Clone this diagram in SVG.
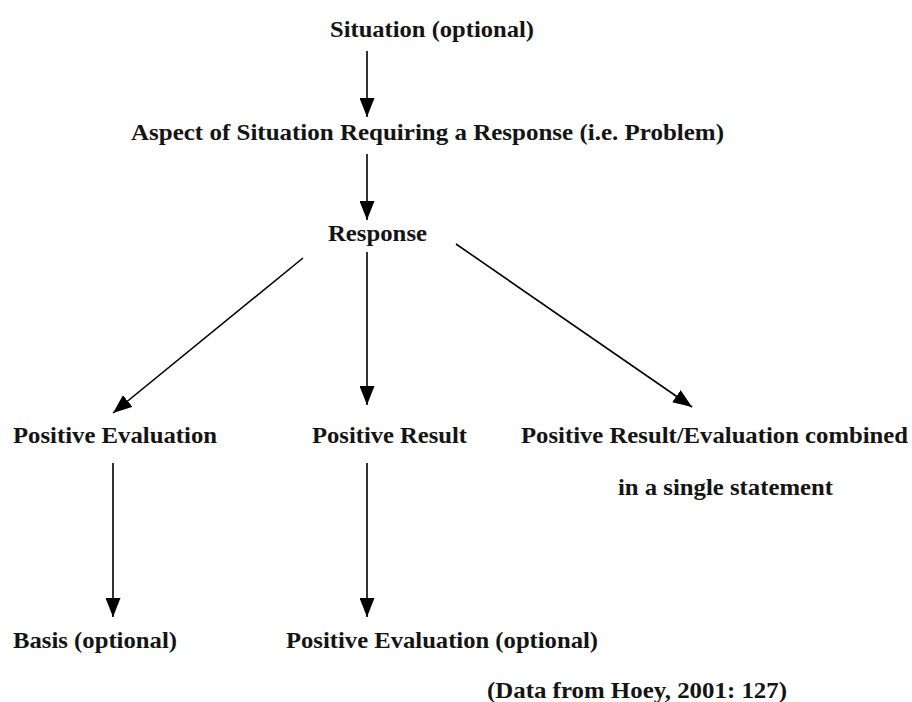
<svg xmlns="http://www.w3.org/2000/svg" width="912" height="702" viewBox="0 0 912 702">
<style>
.t{font-family:"Liberation Serif","Times New Roman",serif;font-weight:bold;font-size:23px;fill:#141414}
.c{stroke:#000;stroke-width:1.6;fill:none;marker-end:url(#ah)}
</style>
<defs>
<marker id="ah" viewBox="0 0 19 15" refX="19" refY="7.5" markerWidth="19" markerHeight="15" markerUnits="userSpaceOnUse" orient="auto">
<path d="M0,0 L19,7.5 L0,15 z" fill="#000"/>
</marker>
</defs>
<rect width="912" height="702" fill="#fff"/>
<g id="connectors">
<line class="c" x1="367" y1="51" x2="367" y2="117"/>
<line class="c" x1="367" y1="154" x2="367" y2="220"/>
<line class="c" x1="303" y1="258" x2="113" y2="413"/>
<line class="c" x1="367" y1="252" x2="367" y2="405"/>
<line class="c" x1="456" y1="244" x2="692" y2="407"/>
<line class="c" x1="113" y1="463" x2="113" y2="617"/>
<line class="c" x1="367" y1="463" x2="367" y2="617"/>
</g>
<g id="situation"><text class="t" x="330" y="37" textLength="204" lengthAdjust="spacingAndGlyphs">Situation (optional)</text></g>
<g id="aspect"><text class="t" x="131" y="140" textLength="593" lengthAdjust="spacingAndGlyphs">Aspect of Situation Requiring a Response (i.e. Problem)</text></g>
<g id="response"><text class="t" x="328" y="241" textLength="99" lengthAdjust="spacingAndGlyphs">Response</text></g>
<g id="positive-evaluation"><text class="t" x="13" y="443" textLength="204" lengthAdjust="spacingAndGlyphs">Positive Evaluation</text></g>
<g id="positive-result"><text class="t" x="312" y="443" textLength="155" lengthAdjust="spacingAndGlyphs">Positive Result</text></g>
<g id="combined">
<text class="t" x="521" y="443" textLength="387" lengthAdjust="spacingAndGlyphs">Positive Result/Evaluation combined</text>
<text class="t" x="618" y="495" textLength="215" lengthAdjust="spacingAndGlyphs">in a single statement</text>
</g>
<g id="basis"><text class="t" x="13" y="648" textLength="164" lengthAdjust="spacingAndGlyphs">Basis (optional)</text></g>
<g id="positive-evaluation-optional"><text class="t" x="286" y="648" textLength="312" lengthAdjust="spacingAndGlyphs">Positive Evaluation (optional)</text></g>
<g id="source"><text class="t" x="487" y="698" textLength="300" lengthAdjust="spacingAndGlyphs">(Data from Hoey, 2001: 127)</text></g>
</svg>
